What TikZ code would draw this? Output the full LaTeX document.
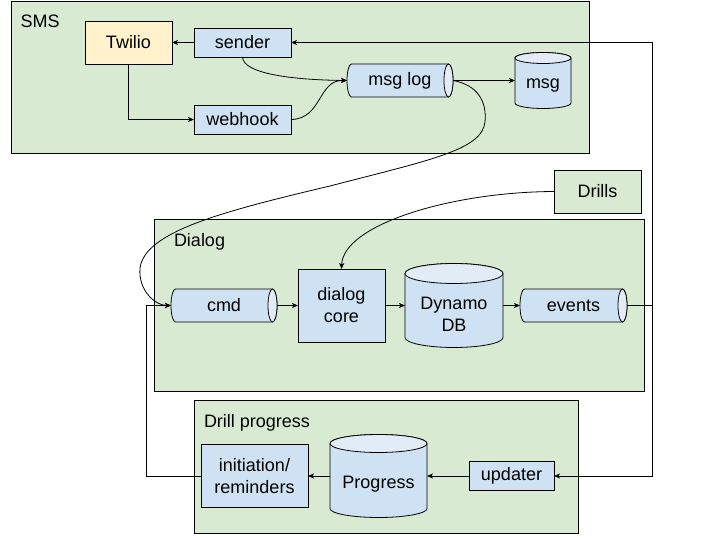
\documentclass[tikz,border=0pt]{standalone}
\usepackage{fontspec}
\setmainfont{Liberation Sans}
\usetikzlibrary{arrows.meta,calc}
\definecolor{grpgreen}{HTML}{D9EAD3}
\definecolor{boxblue}{HTML}{CFE2F3}
\definecolor{cylendc}{HTML}{E1ECF7}
\definecolor{twyellow}{HTML}{FFF2CC}
\pgfdeclarelayer{bg}\pgfdeclarelayer{mid}\pgfsetlayers{bg,mid,main}
% vertical cylinder: node name, x radius, y radius
\newcommand\vcyl[3]{%
  \draw[cylbody] ($(#1.north west)+(0,#3)$) -- ($(#1.south west)+(0,-#3)$)
    arc[start angle=180,end angle=360,x radius=#2pt,y radius=#3pt]
    -- ($(#1.north east)+(0,#3)$)
    arc[start angle=0,end angle=180,x radius=#2pt,y radius=#3pt] -- cycle;
  \draw[cylendst] ($(#1.north)+(0,#3)$) ellipse[x radius=#2pt,y radius=#3pt];
}
% horizontal cylinder: node name, x radius, y radius
\newcommand\hcyl[3]{%
  \draw[cylbody] ($(#1.north west)+(#2,0)$) -- ($(#1.north east)+(-#2,0)$)
    arc[start angle=90,end angle=-90,x radius=#2pt,y radius=#3pt]
    -- ($(#1.south west)+(#2,0)$)
    arc[start angle=270,end angle=90,x radius=#2pt,y radius=#3pt] -- cycle;
  \draw[cylendst] ($(#1.east)+(-#2,0)$) ellipse[x radius=#2pt,y radius=#3pt];
}
\begin{document}
\begin{tikzpicture}[x=1pt,y=-1pt,
  every node/.style={font=\fontsize{18}{22}\selectfont, outer sep=0pt, inner sep=0pt},
  grp/.style={draw, line width=0.9pt, fill=grpgreen},
  box/.style={draw, line width=0.8pt, fill=boxblue, align=center},
  cylnode/.style={align=center},
  txt/.style={align=center},
  cylbody/.style={draw, line width=0.8pt, fill=boxblue},
  cylendst/.style={draw, line width=0.8pt, fill=cylendc},
  lbl/.style={anchor=base west},
  conn/.style={line width=0.8pt},
  arr/.style={conn, -{Stealth[length=6pt,width=5pt,inset=1.5pt]}},
]
\useasboundingbox (0,0) rectangle (720,540);

% groups
\begin{pgfonlayer}{bg}
  \node[grp, minimum width=578pt, minimum height=152pt] (sms) at (300,77) {};
  \node[grp, minimum width=490pt, minimum height=172pt] (dialog) at (399,305) {};
  \node[grp, minimum width=384pt, minimum height=133pt] (drillgrp) at (386,466.5) {};
\end{pgfonlayer}
\node[lbl] (smslbl) at (20.5,27.3) {SMS};
\node[lbl] (diallbl) at (174,247) {Dialog};
\node[lbl] (drilllbl) at (204,427) {Drill progress};

% SMS
\node[box, fill=twyellow, minimum width=87pt, minimum height=43pt] (twilio) at (128.5,42.5) {Twilio};
\node[box, minimum width=97pt, minimum height=29pt] (sender) at (242.5,42.5) {sender};
\node[box, minimum width=97pt, minimum height=29pt] (webhook) at (242.5,119.5) {webhook};
\node[cylnode, minimum width=106pt, minimum height=33pt] (msglog) at (400,80.5) {msg log};
\node[cylnode, minimum width=56pt, minimum height=56pt] (msg) at (543,80.5) {};
\node[txt] (msgtxt) at (543,85.5) {msg};

% Drills
\node[grp, minimum width=87pt, minimum height=43pt] (drills) at (597.5,191.5) {Drills};

% Dialog
\node[cylnode, minimum width=106pt, minimum height=33pt] (cmd) at (224,305.5) {cmd};
\node[box, minimum width=87pt, minimum height=73pt] (core) at (341.5,305.5) {dialog\\core};
\node[cylnode, minimum width=98pt, minimum height=84pt] (dyn) at (454,305.5) {};
\node[txt] (dyntxt) at (454,314) {Dynamo\\DB};
\node[cylnode, minimum width=107pt, minimum height=33pt] (events) at (573.5,305.5) {events};

% Drill progress
\node[box, minimum width=107pt, minimum height=63pt] (init) at (254.5,476) {initiation/\\reminders};
\node[cylnode, minimum width=97pt, minimum height=83pt] (progress) at (378.5,476) {};
\node[txt] (progtxt) at (378.5,484) {Progress};
\node[box, minimum width=85pt, minimum height=29pt] (updater) at (511.5,476) {updater};

% cylinder shapes
\begin{pgfonlayer}{mid}
  \hcyl{msglog}{4.5}{16.5}
  \vcyl{msg}{28}{5.5}
  \hcyl{cmd}{4.5}{16.5}
  \vcyl{dyn}{49}{10}
  \hcyl{events}{4.5}{16.5}
  \vcyl{progress}{48.5}{9}
\end{pgfonlayer}

% connectors
\draw[arr] (sender.west) -- (twilio.east);
\draw[arr] (twilio.south) |- (webhook.west);
\draw[arr] (sender.south) .. controls (243,75) and (300,80) .. (msglog.west);
\draw[arr] (webhook.east) .. controls (322,119) and (318,80) .. (msglog.west);
\draw[arr] (msglog.east) -- (msg.west);
\draw[arr] (msglog.east) .. controls (478,85) and (487,102) .. (485,122)
  .. controls (482,150) and (430,160) .. (330,186)
  .. controls (220,212) and (145,232) .. (140,268)
  .. controls (138,290) and (155,305.5) .. (cmd.west);
\draw[arr] (drills.west) .. controls (450,192) and (343,225) .. (core.north);
\draw[arr] (cmd.east) -- (core.west);
\draw[arr] (core.east) -- (dyn.west);
\draw[arr] (dyn.east) -- (events.west);
\coordinate (j) at (652.5,305.5);
\draw[conn] (events.east) -- (j);
\draw[arr] (j) |- (sender.east);
\draw[arr] (j) |- (updater.east);
\draw[arr] (updater.west) -- (progress.east);
\draw[arr] (progress.west) -- (init.east);
\coordinate (k) at (146.5,305.5);
\draw[arr] (init.west) -| (k) -- (cmd.west);
\end{tikzpicture}
\end{document}
